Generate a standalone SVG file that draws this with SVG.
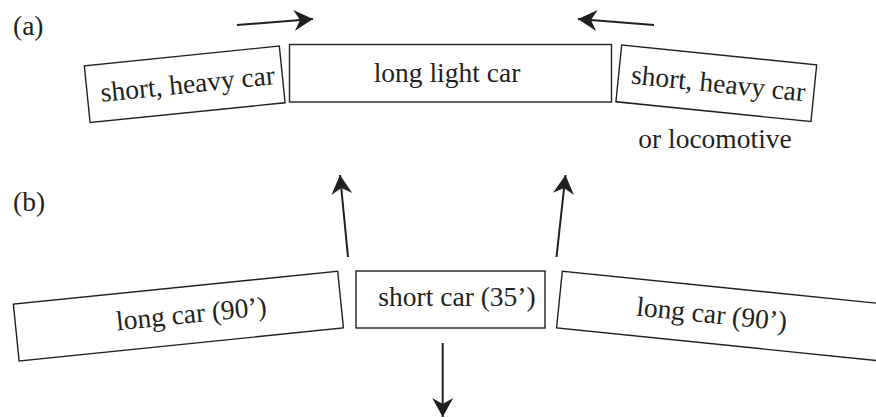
<svg xmlns="http://www.w3.org/2000/svg" width="876" height="418" viewBox="0 0 876 418">
<defs>
<marker id="ah" markerUnits="userSpaceOnUse" markerWidth="24" markerHeight="24" viewBox="-20 -12 22 24" refX="0" refY="0" orient="auto">
<path d="M0,0 L-19,-10.5 L-13,0 L-19,10.5 Z" fill="#231f20"/>
</marker>
</defs>
<rect width="876" height="418" fill="#fff"/>
<g font-family="Liberation Serif" font-size="27.5" fill="#231f20">
<text x="13" y="35">(a)</text>
<text x="13" y="211">(b)</text>
</g>
<g id="a-left-car" transform="translate(184.7,84.3) rotate(-5.8)">
<rect x="-98" y="-28.5" width="196" height="57" fill="#fff" stroke="#231f20" stroke-width="1.4"/>
<text x="3" y="9" font-family="Liberation Serif" font-size="27.5" fill="#231f20" text-anchor="middle">short, heavy car</text>
</g>
<g id="a-center-car">
<rect x="289.5" y="44.5" width="322" height="57.5" fill="#fff" stroke="#231f20" stroke-width="1.4"/>
<text x="447" y="81.5" font-family="Liberation Serif" font-size="27.5" fill="#231f20" text-anchor="middle">long light car</text>
</g>
<g id="a-right-car" transform="translate(716.3,83.3) rotate(5.8)">
<rect x="-98" y="-28.5" width="196" height="57" fill="#fff" stroke="#231f20" stroke-width="1.4"/>
<text x="2" y="9" font-family="Liberation Serif" font-size="27.5" fill="#231f20" text-anchor="middle">short, heavy car</text>
</g>
<g id="a-note">
<text x="715" y="148" font-family="Liberation Serif" font-size="27.5" fill="#231f20" text-anchor="middle">or locomotive</text>
</g>
<g id="b-left-car" transform="translate(178.4,316.1) rotate(-5.8)">
<rect x="-163" y="-28.5" width="326" height="57" fill="#fff" stroke="#231f20" stroke-width="1.4"/>
<text x="13" y="8" font-family="Liberation Serif" font-size="27.5" fill="#231f20" text-anchor="middle">long car (90’)</text>
</g>
<g id="b-center-car">
<rect x="356" y="271" width="189" height="57" fill="#fff" stroke="#231f20" stroke-width="1.4"/>
<text x="457" y="306" font-family="Liberation Serif" font-size="27.5" fill="#231f20" text-anchor="middle">short car (35’)</text>
</g>
<g id="b-right-car" transform="translate(721.6,316.1) rotate(5.8)">
<rect x="-163" y="-28.5" width="326" height="57" fill="#fff" stroke="#231f20" stroke-width="1.4"/>
<text x="-10" y="8" font-family="Liberation Serif" font-size="27.5" fill="#231f20" text-anchor="middle">long car (90’)</text>
</g>
<g id="connectors" stroke="#231f20" stroke-width="2" fill="none" marker-end="url(#ah)">
<line x1="237" y1="25" x2="313" y2="19"/>
<line x1="654" y1="25" x2="578" y2="19"/>
<line x1="348" y1="257" x2="340" y2="175"/>
<line x1="556.5" y1="257" x2="565.5" y2="175"/>
<line x1="442.7" y1="343" x2="442.7" y2="417"/>
</g>
</svg>
